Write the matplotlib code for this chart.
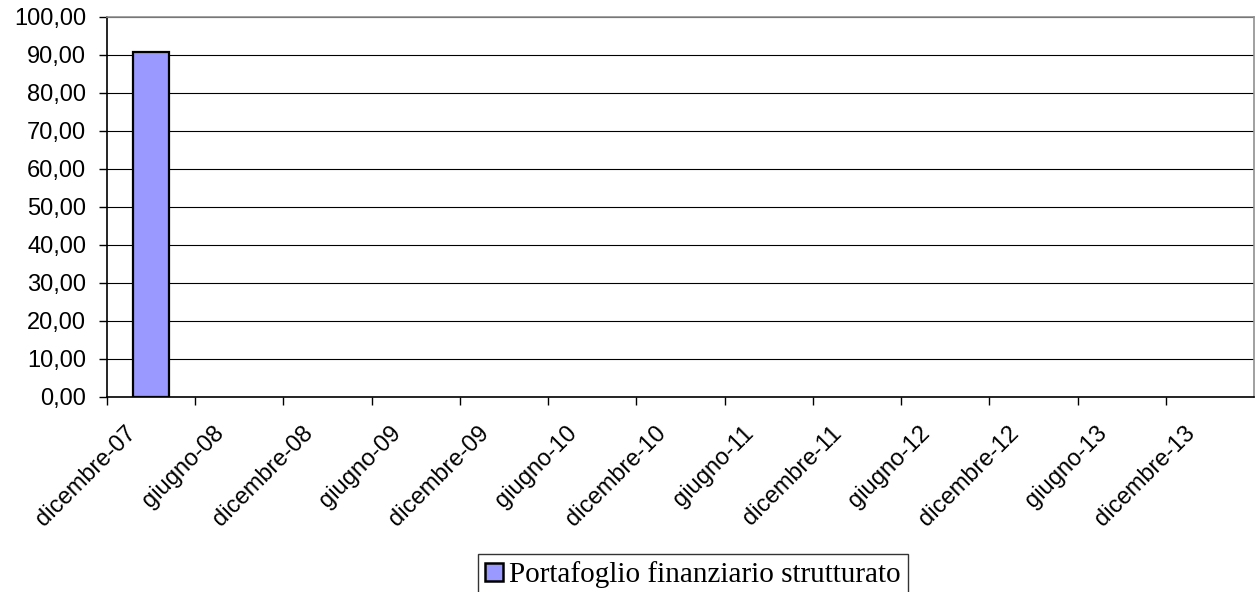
import numpy as np
import matplotlib
matplotlib.use("Agg")
import matplotlib.pyplot as plt
from matplotlib.patches import Patch
from matplotlib.transforms import ScaledTranslation

categories = ["dicembre-07", "giugno-08", "dicembre-08", "giugno-09", "dicembre-09",
              "giugno-10", "dicembre-10", "giugno-11", "dicembre-11", "giugno-12",
              "dicembre-12", "giugno-13", "dicembre-13"]
values = [90.9, None, None, None, None, None, None, None, None, None, None, None, None]
series_name = "Portafoglio finanziario strutturato"
yticks = [0, 10, 20, 30, 40, 50, 60, 70, 80, 90, 100]

fig = plt.figure(figsize=(12.55, 5.92), dpi=100)
ax = fig.add_axes([107/1255, 1 - 397/592, 1 - 107/1255 - 0.0008, (397 - 17)/592])

x = np.arange(len(categories))
vals = np.array([np.nan if v is None else v for v in values], dtype=float)
ax.bar(x, vals, width=0.41, color="#9999FF", edgecolor="black", linewidth=1.6, zorder=3)

ax.set_xlim(-0.5, len(categories) - 0.5)
ax.set_ylim(0, 100)
ax.set_yticks(yticks)
ax.set_yticklabels([f"{v:.2f}".replace(".", ",") for v in yticks],
                   fontsize=17, family="Liberation Sans")
ax.yaxis.grid(True, color="black", linewidth=0.8, zorder=0)
ax.set_axisbelow(True)

# category labels at centers, ticks at boundaries
ax.set_xticks(x)
ax.set_xticklabels(categories, rotation=45, ha="right", va="top",
                   rotation_mode="anchor", fontsize=17, family="Liberation Sans")
ax.tick_params(axis="x", which="major", length=0, pad=18)
offset = ScaledTranslation(-0.26, 0, fig.dpi_scale_trans)
for lab in ax.get_xticklabels():
    lab.set_transform(lab.get_transform() + offset)
ax.set_xticks(np.arange(len(categories)) - 0.5, minor=True)
ax.tick_params(axis="x", which="minor", length=6, width=1, direction="out", color="black")
ax.tick_params(axis="y", length=6, width=1, direction="out", color="black", pad=9)

for s in ["left", "bottom"]:
    ax.spines[s].set_color("black")
    ax.spines[s].set_linewidth(1.2)
for s in ["top", "right"]:
    ax.spines[s].set_color("#909090")
    ax.spines[s].set_linewidth(1.2)

handle = Patch(facecolor="#9999FF", edgecolor="black", linewidth=1.8)
leg = fig.legend([handle], [series_name], loc="upper center",
                 bbox_to_anchor=(693/1255, 1 - 554/592),
                 prop={"family": "Liberation Serif", "size": 21}, frameon=True, fancybox=False,
                 edgecolor="black", handlelength=0.62, handleheight=0.62, handletextpad=0.22,
                 borderpad=0.25, borderaxespad=0)
leg.get_frame().set_linewidth(1.0)

fig.savefig("out.png", dpi=100)
